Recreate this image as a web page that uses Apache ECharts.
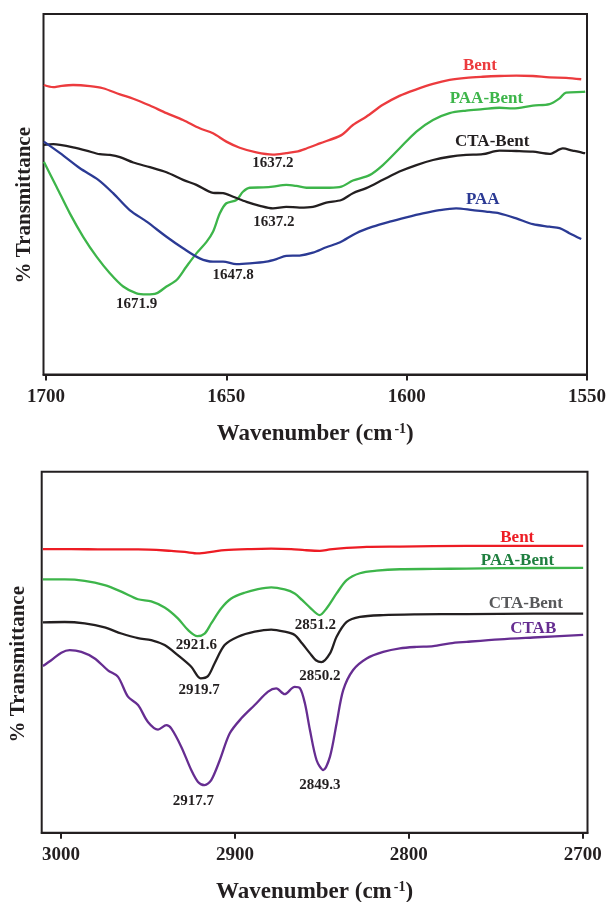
<!DOCTYPE html>
<html><head><meta charset="utf-8">
<script src="https://cdn.jsdelivr.net/npm/echarts@6/dist/echarts.min.js"></script>
<style>html,body{margin:0;padding:0;background:#fff}#c{width:606px;height:902px}</style>
</head><body><div id="c"></div>
<script>
// ---------- Top panel (1700-1550 cm-1) ----------
const topTicks = [1700, 1650, 1600, 1550];
const topBentWn = [1700.6,1698.0,1696.1,1692.5,1687.8,1684.2,1679.5,1675.8,1671.2,1666.6,1662.0,1657.4,1653.7,1650.0,1646.3,1641.7,1637.1,1633.4,1630.6,1627.8,1624.1,1618.1,1614.9,1611.2,1606.6,1602.0,1597.3,1592.7,1588.1,1583.5,1578.9,1574.3,1569.6,1565.0,1560.4,1555.8,1551.6];
const topBentT  = [80.3,79.7,80.0,80.3,80.0,79.4,77.7,76.5,74.6,72.5,70.6,68.3,66.9,64.6,62.9,61.6,61.0,61.4,61.8,62.7,64.1,66.4,69.2,71.5,74.8,77.3,79.1,80.6,81.7,82.3,82.6,82.8,82.9,82.8,82.4,82.3,81.9];
const topCtaWn  = [1700.6,1698.0,1696.1,1692.5,1688.8,1685.1,1682.3,1679.5,1675.8,1671.2,1666.6,1662.0,1658.3,1653.7,1650.9,1648.1,1644.4,1640.7,1637.1,1633.4,1629.7,1626.0,1622.3,1618.1,1614.9,1611.2,1606.6,1602.0,1597.3,1592.7,1588.1,1583.5,1578.9,1574.3,1569.6,1565.0,1560.4,1556.7,1554.0,1551.2,1550.5];
const topCtaT   = [63.7,63.9,63.7,63.0,62.1,61.1,60.9,60.3,58.8,57.5,56.1,54.0,52.6,50.4,50.3,49.3,47.9,46.8,46.1,46.5,46.3,46.5,47.7,48.4,50.3,51.7,54.0,56.3,58.1,59.5,60.4,60.9,61.1,62.1,62.0,61.8,61.2,62.7,62.1,61.5,61.4];
const topPaaWn  = [1700.6,1696.1,1690.6,1685.5,1681.4,1676.8,1672.1,1666.6,1662.0,1657.4,1653.7,1650.9,1647.2,1643.5,1638.9,1636.1,1633.4,1629.7,1626.0,1622.3,1618.6,1614.0,1609.4,1604.7,1600.1,1595.5,1590.9,1586.3,1581.7,1578.0,1574.3,1569.6,1565.0,1560.4,1557.6,1554.9,1551.6];
const topPaaT   = [64.6,61.4,57.2,54.0,50.3,45.6,42.4,38.2,35.0,32.2,31.3,31.3,30.6,30.8,31.3,32.0,32.9,33.0,33.8,35.3,36.6,39.2,41.0,42.4,43.6,44.7,45.6,46.1,45.6,45.2,44.7,43.3,41.7,41.0,40.6,39.2,37.6];
const topPaaBentWn = [1700.6,1697.1,1693.4,1689.7,1686.0,1682.3,1678.6,1674.9,1672.1,1669.4,1666.6,1663.8,1661.1,1658.3,1655.5,1653.7,1651.8,1650.0,1647.2,1645.4,1643.5,1639.8,1637.1,1633.4,1630.6,1627.8,1621.4,1618.1,1614.9,1610.3,1606.6,1602.0,1597.3,1592.7,1588.1,1583.5,1578.9,1574.3,1570.6,1565.0,1560.4,1557.6,1555.8,1551.2,1550.5];
const topPaaBentT  = [59.0,52.1,44.7,38.2,32.7,28.1,24.4,22.5,22.2,22.5,24.4,26.2,29.9,33.6,36.8,39.6,44.7,47.5,48.4,50.7,51.8,51.9,52.1,52.6,52.3,51.8,51.8,52.1,53.8,55.3,58.1,62.7,67.4,70.6,72.5,73.2,73.6,74.0,73.8,74.6,75.0,76.6,78.2,78.4,78.5];

// ---------- Bottom panel (3000-2700 cm-1) ----------
const botTicks = [3000, 2900, 2800, 2700];
const botBentWn = [3010.4,2994.1,2974.9,2955.7,2936.6,2928.9,2921.2,2913.6,2905.9,2890.6,2879.1,2867.6,2859.9,2851.1,2845.3,2835.7,2824.2,2805.1,2785.9,2747.6,2699.7];
const botBentT  = [78.6,78.6,78.5,78.5,78.1,77.8,77.4,77.8,78.3,78.6,78.7,78.6,78.3,78.1,78.5,78.9,79.2,79.3,79.4,79.5,79.5];
const botPaaBentWn = [3010.4,2997.9,2986.4,2974.9,2965.3,2955.7,2948.1,2940.4,2932.8,2927.0,2921.6,2917.4,2913.6,2907.8,2902.1,2894.4,2886.7,2879.1,2871.4,2865.6,2861.4,2856.8,2851.3,2847.2,2841.5,2835.7,2828.1,2818.5,2805.1,2785.9,2766.7,2747.6,2699.7];
const botPaaBentT  = [70.2,70.2,69.8,68.6,66.8,64.7,64.1,62.4,59.4,56.2,54.5,55.2,58.0,62.2,64.9,66.5,67.5,68.0,67.4,66.3,64.5,62.4,60.3,62.2,66.3,70.0,71.9,72.6,73.0,73.1,73.2,73.3,73.4];
const botCtaWn  = [3010.4,2997.9,2986.4,2974.9,2965.3,2955.7,2948.1,2940.4,2932.8,2925.1,2919.7,2915.5,2911.7,2905.9,2898.2,2888.6,2879.1,2871.4,2865.6,2861.4,2856.8,2853.4,2850.2,2845.3,2841.5,2835.7,2828.1,2814.7,2795.5,2766.7,2728.4,2699.7];
const botCtaT   = [58.3,58.4,58.0,56.9,55.2,53.9,53.4,52.0,49.2,46.0,42.8,43.4,46.9,52.0,54.3,55.7,56.3,55.7,54.8,52.5,49.7,47.8,47.3,49.7,54.3,58.4,59.8,60.3,60.5,60.6,60.7,60.7];
const botCtabWn = [3010.4,3005.6,2999.8,2995.0,2988.3,2980.6,2973.0,2967.2,2961.5,2955.7,2950.0,2944.2,2939.4,2936.6,2930.8,2925.1,2921.2,2917.4,2913.6,2908.7,2903.0,2896.3,2888.6,2880.9,2876.2,2871.4,2865.6,2862.6,2859.7,2856.8,2853.0,2849.2,2845.3,2841.5,2837.7,2832.0,2824.2,2814.7,2805.1,2795.5,2785.9,2776.3,2766.7,2747.6,2728.4,2699.7];
const botCtabT  = [46.2,47.8,49.9,50.6,50.1,48.3,45.0,43.2,37.7,35.4,30.7,28.6,29.8,28.9,23.8,17.4,14.1,13.2,14.6,20.1,27.5,31.7,35.4,39.1,40.0,38.4,40.4,40.1,35.8,28.4,20.1,17.4,21.1,30.3,39.5,45.1,48.3,50.1,51.1,51.5,51.7,52.5,52.9,53.6,54.1,54.8];

const F = '"Liberation Serif","Times New Roman",serif';
const INK = '#231f20';
function pairs(x, y) { return x.map((v, i) => [v, y[i]]); }
function lbl(text, coord, color, size) {
  return { coord: coord, value: text, symbolSize: 0,
    label: { show: true, position: 'inside', formatter: text, color: color,
      fontFamily: F, fontWeight: 'bold', fontSize: size } };
}
function line(idx, x, y, color, marks) {
  return { type: 'line', xAxisIndex: idx, yAxisIndex: idx, data: pairs(x, y),
    showSymbol: false, smooth: 0.3, lineStyle: { color: color, width: 2.3 },
    itemStyle: { color: color }, silent: true,
    markPoint: { symbolSize: 0, silent: true, itemStyle: { color: 'rgba(0,0,0,0)' }, data: marks } };
}
function xAxis(idx, min, max, ticks) {
  return { gridIndex: idx, type: 'value', min: min, max: max, inverse: true,
    axisLine: { show: true, onZero: false, lineStyle: { color: INK, width: 2 } },
    axisTick: { show: true, customValues: ticks, length: 6, lineStyle: { color: INK, width: 2 } },
    axisLabel: { customValues: ticks, formatter: v => String(v), fontFamily: F, fontWeight: 'bold', fontSize: 19, color: INK, margin: 13 },
    splitLine: { show: false },
    name: '{a|Wavenumber (cm}{s|-1}{a|)}', nameLocation: 'middle', nameGap: 48,
    nameTextStyle: { rich: {
      a: { fontFamily: F, fontWeight: 'bold', fontSize: 23, color: INK },
      s: { fontFamily: F, fontWeight: 'bold', fontSize: 14, color: INK, verticalAlign: 'top', padding: [0, 0, 0, 2] } } } };
}
function yAxis(idx, gap, shift) {
  return { gridIndex: idx, type: 'value', min: 0, max: 100,
    axisLine: { show: false }, axisTick: { show: false }, axisLabel: { show: false }, splitLine: { show: false },
    name: '% Transmittance', nameLocation: 'middle', nameRotate: 90, nameGap: gap,
    nameTextStyle: { fontFamily: F, fontWeight: 'bold', fontSize: 21, color: INK, padding: [0, shift, 0, 0] } };
}

const chart = echarts.init(document.getElementById('c'), null, { renderer: 'canvas' });
chart.setOption({
  animation: false,
  backgroundColor: '#fff',
  grid: [
    { left: 43.5, top: 14, width: 543.5, height: 360.5, show: true, borderColor: INK, borderWidth: 2, containLabel: false, outerBoundsMode: 'none' },
    { left: 41.7, top: 471.8, width: 545.8, height: 361, show: true, borderColor: INK, borderWidth: 2, containLabel: false, outerBoundsMode: 'none' }
  ],
  xAxis: [ xAxis(0, 1550, 1700.7, topTicks), xAxis(1, 2697.2, 3011.1, botTicks) ],
  yAxis: [ yAxis(0, 8, 22), yAxis(1, 13, 24) ],
  series: [
    line(0, topBentWn, topBentT, '#ec3b3e', [
      lbl('Bent', [1579.7, 85.8], '#ec3b3e', 17),
      lbl('1637.2', [1637.1, 58.6], INK, 15)]),
    line(0, topPaaBentWn, topPaaBentT, '#3db54a', [
      lbl('PAA-Bent', [1577.9, 76.5], '#3db54a', 17),
      lbl('1671.9', [1674.9, 19.5], INK, 15)]),
    line(0, topCtaWn, topCtaT, INK, [
      lbl('CTA-Bent', [1576.3, 64.6], INK, 17),
      lbl('1637.2', [1636.8, 42.2], INK, 15)]),
    line(0, topPaaWn, topPaaT, '#2b3a94', [
      lbl('PAA', [1578.9, 48.4], '#2b3a94', 17),
      lbl('1647.8', [1648.1, 27.6], INK, 15)]),
    line(1, botBentWn, botBentT, '#ed1c24', [
      lbl('Bent', [2737.6, 81.9], '#ed1c24', 17)]),
    line(1, botPaaBentWn, botPaaBentT, '#3db54a', [
      lbl('PAA-Bent', [2737.5, 75.5], '#1f7f3f', 17),
      lbl('2921.6', [2922.2, 52.0], INK, 15),
      lbl('2851.2', [2853.7, 57.4], INK, 15)]),
    line(1, botCtaWn, botCtaT, INK, [
      lbl('CTA-Bent', [2732.7, 63.5], '#58595b', 17),
      lbl('2919.7', [2920.6, 39.5], INK, 15),
      lbl('2850.2', [2851.1, 43.5], INK, 15)]),
    line(1, botCtabWn, botCtabT, '#662d91', [
      lbl('CTAB', [2728.4, 56.6], '#662d91', 17),
      lbl('2917.7', [2923.8, 8.9], INK, 15),
      lbl('2849.3', [2851.1, 13.1], INK, 15)])
  ]
});
</script>
</body></html>
